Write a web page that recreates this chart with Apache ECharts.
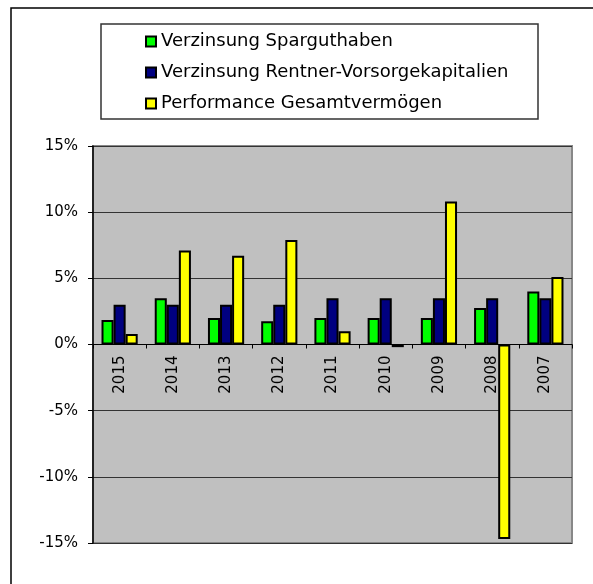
<!DOCTYPE html>
<html>
<head>
<meta charset="utf-8">
<script src="https://cdn.jsdelivr.net/npm/echarts@6/dist/echarts.min.js"></script>
<style>
html,body{margin:0;padding:0;background:#fff;}
#chart{width:593px;height:584px;}
</style>
</head>
<body>
<div id="chart"></div>
<script>
const years = ['2015','2014','2013','2012','2011','2010','2009','2008','2007'];
const sparguthaben = [1.85, 3.5, 2.0, 1.75, 2.0, 2.0, 2.0, 2.75, 4.0];
const rentner = [3.0, 3.0, 3.0, 3.0, 3.5, 3.5, 3.5, 3.5, 3.5];
const performance = [0.8, 7.1, 6.7, 7.9, 1.0, -0.2, 10.8, -14.7, 5.1];
const seriesNames = ['Verzinsung Sparguthaben', 'Verzinsung Rentner-Vorsorgekapitalien', 'Performance Gesamtvermögen'];
const yTicks = {min: -15, max: 15, interval: 5};

const font = 'DejaVu Sans, Verdana, sans-serif';
const W = 593, H = 584;
const gridBox = {left: 93, top: 146, right: 21, bottom: 41};
const gridH = H - gridBox.top - gridBox.bottom;
// distance from grid bottom up to the zero line (labels sit just below zero)
const zeroOffset = gridH * (0 - yTicks.min) / (yTicks.max - yTicks.min);

const chart = echarts.init(document.getElementById('chart'), null, {renderer: 'canvas'});
function bar(name, data, color) {
  return {
    name: name, type: 'bar', data: data,
    barGap: '0%', barCategoryGap: '32%',
    itemStyle: {color: color, borderColor: '#000', borderWidth: 2},
    emphasis: {disabled: true}
  };
}
chart.setOption({
  animation: false,
  backgroundColor: '#fff',
  textStyle: {fontFamily: font},
  graphic: [
    {type: 'rect', shape: {x: 11, y: 8, width: 640, height: 640}, style: {fill: 'none', stroke: '#000', lineWidth: 1.5}, z: 0},
    {type: 'rect', shape: {x: 101, y: 24, width: 437, height: 95}, style: {fill: '#fff', stroke: '#333', lineWidth: 1.5}, z: 1}
  ],
  legend: {
    orient: 'vertical', left: 140, top: 26,
    itemWidth: 10, itemHeight: 10, itemGap: 10,
    icon: 'rect',
    textStyle: {fontFamily: font, fontSize: 18, color: '#000', lineHeight: 21},
    data: seriesNames, z: 5
  },
  grid: {
    left: gridBox.left, top: gridBox.top, right: gridBox.right, bottom: gridBox.bottom,
    outerBoundsMode: 'none', containLabel: false,
    show: true, backgroundColor: '#c0c0c0', borderColor: '#888', borderWidth: 2
  },
  xAxis: {
    type: 'category', data: years,
    axisLine: {onZero: true, lineStyle: {color: '#000', width: 1}},
    axisTick: {show: true, length: 4, lineStyle: {color: '#000'}},
    axisLabel: {rotate: 90, margin: 11 - zeroOffset, fontSize: 15, color: '#000', fontFamily: font}
  },
  yAxis: {
    type: 'value', min: yTicks.min, max: yTicks.max, interval: yTicks.interval,
    axisLine: {show: true, lineStyle: {color: '#000', width: 1.5}},
    axisTick: {show: true, length: 5, lineStyle: {color: '#000'}},
    axisLabel: {formatter: '{value}%', fontSize: 15, color: '#000', margin: 15, fontFamily: font},
    splitLine: {show: true, lineStyle: {color: '#333', width: 1}}
  },
  series: [
    bar(seriesNames[0], sparguthaben, '#00ff00'),
    bar(seriesNames[1], rentner, '#000080'),
    bar(seriesNames[2], performance, '#ffff00')
  ]
});
</script>
</body>
</html>
